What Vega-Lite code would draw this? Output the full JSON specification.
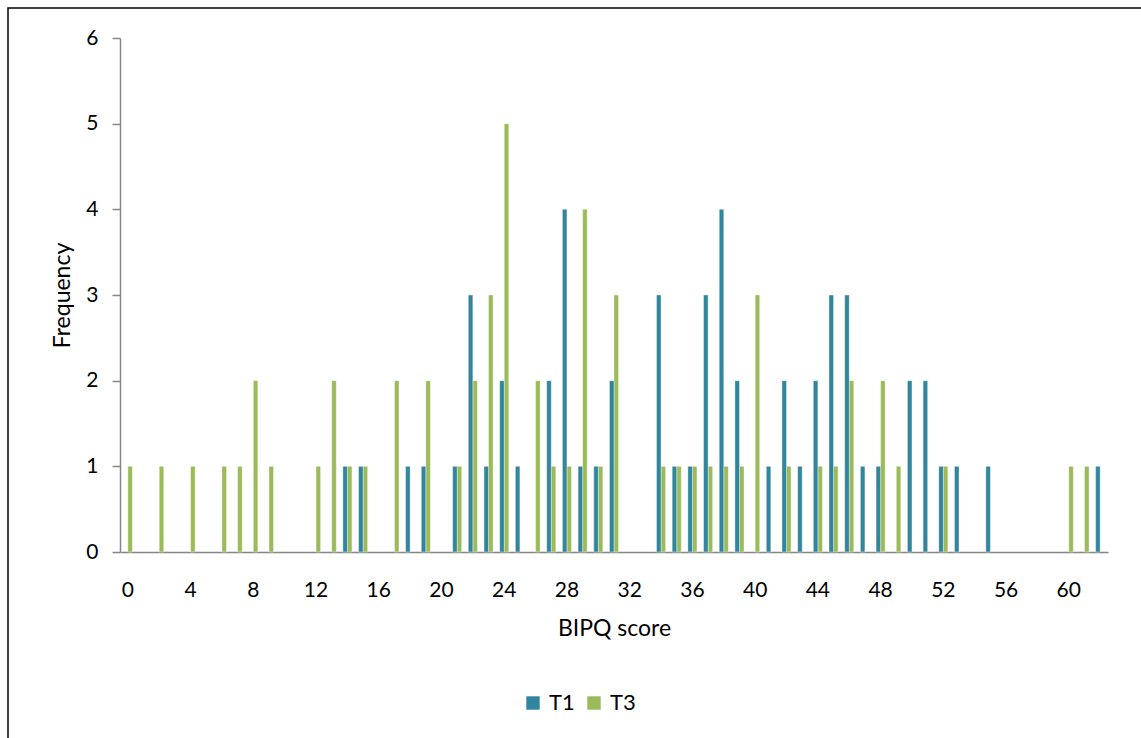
{
  "$schema": "https://vega.github.io/schema/vega-lite/v6.json",
  "width": 1140,
  "height": 740,
  "autosize": {"type": "none"},
  "padding": {"left": 8, "top": 8, "right": 0, "bottom": 0},
  "background": "white",
  "config": {
    "view": {"stroke": "black", "strokeWidth": 1.5},
    "font": "Lato",
    "axis": {"grid": false, "labelColor": "black", "titleColor": "black", "titleFontWeight": "normal", "domainColor": "#868686", "tickColor": "#868686", "labelFont": "Lato", "titleFont": "Lato"},
    "legend": {"labelFont": "Lato"}
  },
  "data": {
    "values": [
      {"score": 0, "time": "T3", "freq": 1},
      {"score": 2, "time": "T3", "freq": 1},
      {"score": 4, "time": "T3", "freq": 1},
      {"score": 6, "time": "T3", "freq": 1},
      {"score": 7, "time": "T3", "freq": 1},
      {"score": 8, "time": "T3", "freq": 2},
      {"score": 9, "time": "T3", "freq": 1},
      {"score": 12, "time": "T3", "freq": 1},
      {"score": 13, "time": "T3", "freq": 2},
      {"score": 14, "time": "T3", "freq": 1},
      {"score": 15, "time": "T3", "freq": 1},
      {"score": 17, "time": "T3", "freq": 2},
      {"score": 19, "time": "T3", "freq": 2},
      {"score": 21, "time": "T3", "freq": 1},
      {"score": 22, "time": "T3", "freq": 2},
      {"score": 23, "time": "T3", "freq": 3},
      {"score": 24, "time": "T3", "freq": 5},
      {"score": 26, "time": "T3", "freq": 2},
      {"score": 27, "time": "T3", "freq": 1},
      {"score": 28, "time": "T3", "freq": 1},
      {"score": 29, "time": "T3", "freq": 4},
      {"score": 30, "time": "T3", "freq": 1},
      {"score": 31, "time": "T3", "freq": 3},
      {"score": 34, "time": "T3", "freq": 1},
      {"score": 35, "time": "T3", "freq": 1},
      {"score": 36, "time": "T3", "freq": 1},
      {"score": 37, "time": "T3", "freq": 1},
      {"score": 38, "time": "T3", "freq": 1},
      {"score": 39, "time": "T3", "freq": 1},
      {"score": 40, "time": "T3", "freq": 3},
      {"score": 42, "time": "T3", "freq": 1},
      {"score": 44, "time": "T3", "freq": 1},
      {"score": 45, "time": "T3", "freq": 1},
      {"score": 46, "time": "T3", "freq": 2},
      {"score": 48, "time": "T3", "freq": 2},
      {"score": 49, "time": "T3", "freq": 1},
      {"score": 52, "time": "T3", "freq": 1},
      {"score": 60, "time": "T3", "freq": 1},
      {"score": 61, "time": "T3", "freq": 1},
      {"score": 14, "time": "T1", "freq": 1},
      {"score": 15, "time": "T1", "freq": 1},
      {"score": 18, "time": "T1", "freq": 1},
      {"score": 19, "time": "T1", "freq": 1},
      {"score": 21, "time": "T1", "freq": 1},
      {"score": 22, "time": "T1", "freq": 3},
      {"score": 23, "time": "T1", "freq": 1},
      {"score": 24, "time": "T1", "freq": 2},
      {"score": 25, "time": "T1", "freq": 1},
      {"score": 27, "time": "T1", "freq": 2},
      {"score": 28, "time": "T1", "freq": 4},
      {"score": 29, "time": "T1", "freq": 1},
      {"score": 30, "time": "T1", "freq": 1},
      {"score": 31, "time": "T1", "freq": 2},
      {"score": 34, "time": "T1", "freq": 3},
      {"score": 35, "time": "T1", "freq": 1},
      {"score": 36, "time": "T1", "freq": 1},
      {"score": 37, "time": "T1", "freq": 3},
      {"score": 38, "time": "T1", "freq": 4},
      {"score": 39, "time": "T1", "freq": 2},
      {"score": 41, "time": "T1", "freq": 1},
      {"score": 42, "time": "T1", "freq": 2},
      {"score": 43, "time": "T1", "freq": 1},
      {"score": 44, "time": "T1", "freq": 2},
      {"score": 45, "time": "T1", "freq": 3},
      {"score": 46, "time": "T1", "freq": 3},
      {"score": 47, "time": "T1", "freq": 1},
      {"score": 48, "time": "T1", "freq": 1},
      {"score": 50, "time": "T1", "freq": 2},
      {"score": 51, "time": "T1", "freq": 2},
      {"score": 52, "time": "T1", "freq": 1},
      {"score": 53, "time": "T1", "freq": 1},
      {"score": 55, "time": "T1", "freq": 1},
      {"score": 62, "time": "T1", "freq": 1}
    ]
  },
  "mark": {"type": "bar", "stroke": "white", "strokeWidth": 0.4},
  "encoding": {
    "x": {
      "field": "score",
      "type": "ordinal",
      "sort": "ascending",
      "scale": {
        "domain": [0,1,2,3,4,5,6,7,8,9,10,11,12,13,14,15,16,17,18,19,20,21,22,23,24,25,26,27,28,29,30,31,32,33,34,35,36,37,38,39,40,41,42,43,44,45,46,47,48,49,50,51,52,53,54,55,56,57,58,59,60,61,62],
        "range": [112, 1100],
        "paddingInner": 0.42,
        "paddingOuter": 0.21
      },
      "axis": {
        "title": "BIPQ score",
        "values": [0,4,8,12,16,20,24,28,32,36,40,44,48,52,56,60],
        "labelAngle": 0,
        "ticks": false,
        "labelPadding": 27,
        "labelFontSize": 21,
        "titleFontSize": 23,
        "titlePadding": 17,
        "offset": -196,
        "domainWidth": 1.5
      }
    },
    "xOffset": {"field": "time", "type": "nominal", "scale": {"domain": ["T1", "T3"]}},
    "y": {
      "field": "freq",
      "type": "quantitative",
      "scale": {"domain": [0, 6], "range": [544, 30], "nice": false},
      "axis": {
        "title": "Frequency",
        "values": [0,1,2,3,4,5,6],
        "tickSize": 8,
        "labelPadding": 14,
        "labelFontSize": 21,
        "titleFontSize": 23,
        "titlePadding": 11,
        "offset": -112,
        "domainWidth": 1.5,
        "tickWidth": 1.5
      }
    },
    "color": {
      "field": "time",
      "type": "nominal",
      "scale": {"domain": ["T1", "T3"], "range": ["#31859C", "#9BBB59"]},
      "legend": {
        "title": null,
        "orient": "none",
        "direction": "horizontal",
        "legendX": 514,
        "legendY": 684,
        "symbolType": "square",
        "symbolSize": 180,
        "symbolStrokeWidth": 0,
        "labelFontSize": 22,
        "labelOffset": 5,
        "columnPadding": 8,
        "symbolOffset": 0
      }
    }
  }
}
